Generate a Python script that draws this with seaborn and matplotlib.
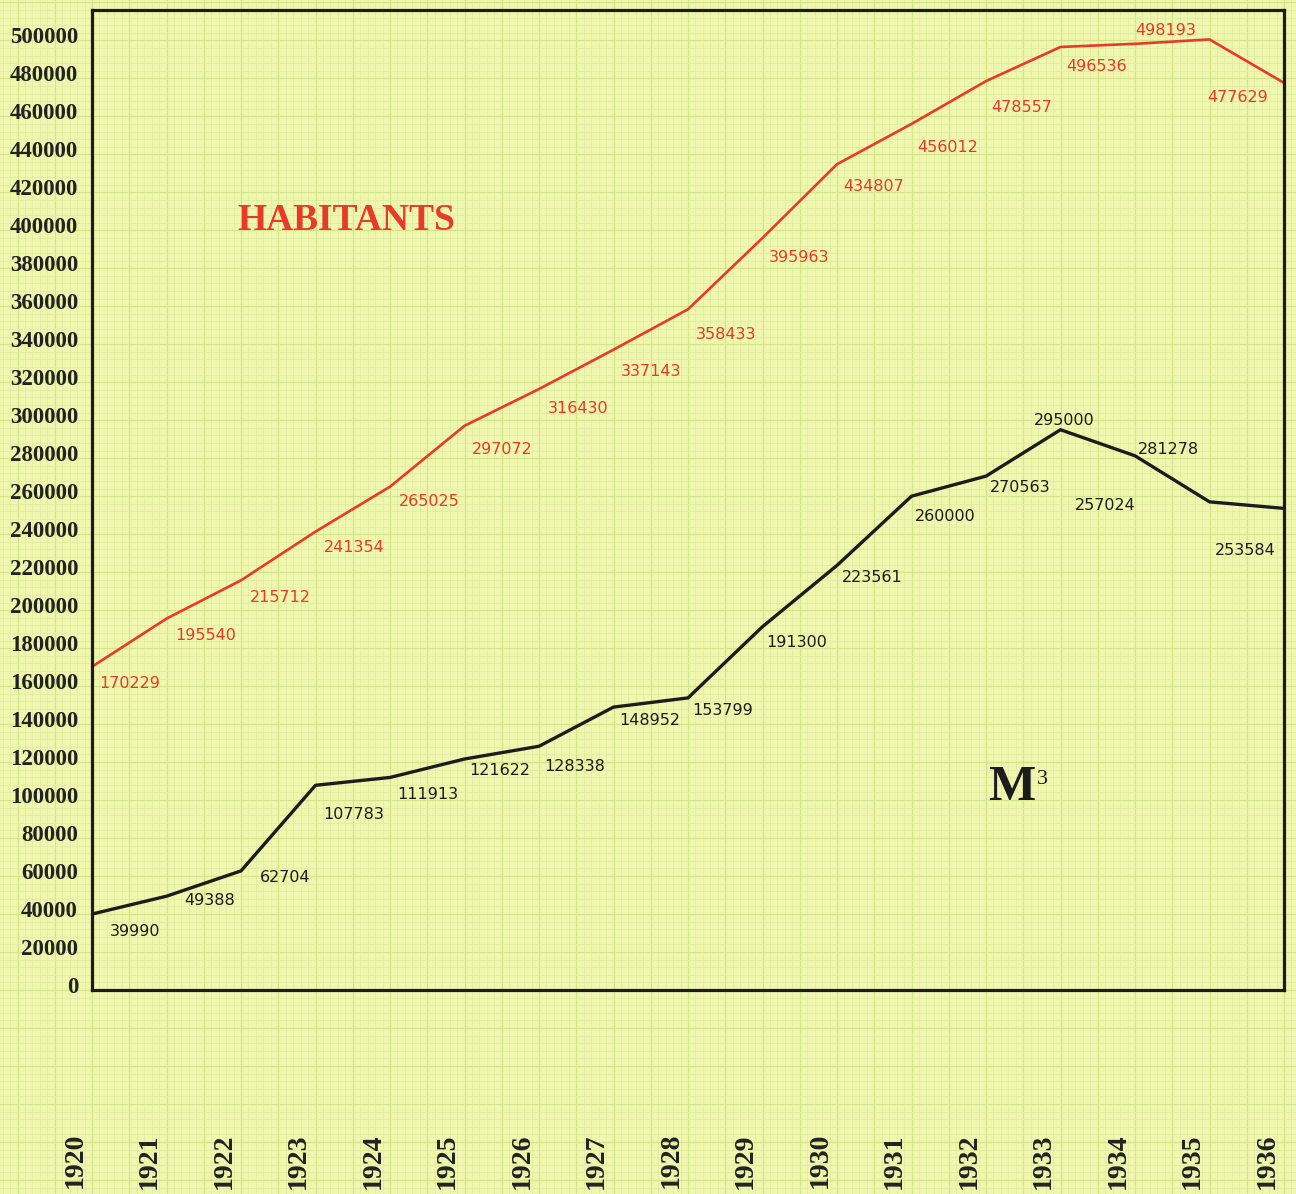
import matplotlib
matplotlib.use("Agg")
import matplotlib.pyplot as plt
import seaborn as sns
import pandas as pd
from matplotlib.ticker import MultipleLocator
from matplotlib.transforms import ScaledTranslation

# ---------------- data ----------------
years = list(range(1920, 1937))
habitants = [170229, 195540, 215712, 241354, 265025, 297072, 316430, 337143,
             358433, 395963, 434807, 456012, 478557, 496536, 498193, 500500, 477629]
habitants_labels = ["170229", "195540", "215712", "241354", "265025", "297072",
                    "316430", "337143", "358433", "395963", "434807", "456012",
                    "478557", "496536", "498193", "", "477629"]
m3 = [39990, 49388, 62704, 107783, 111913, 121622, 128338, 148952, 153799,
      191300, 223561, 260000, 270563, 295000, 281278, 257024, 253584]
m3_labels = ["39990", "49388", "62704", "107783", "111913", "121622", "128338",
             "148952", "153799", "191300", "223561", "260000", "270563",
             "295000", "281278", "257024", "253584"]
y_ticks = list(range(0, 500001, 20000))
year_labels = [str(y) for y in years]

# label offsets (pixels: right, down) relative to each point
hab_off = [(38, 17), (39, 17), (39, 17), (39, 16), (39, 15), (38, 24), (39, 19),
           (38, 22), (38, 25), (37, 20), (37, 22), (36, 24), (36, 26), (36, 20),
           (31, -13), (0, 0), (-46, 15)]
m3_off = [(43, 17), (43, 4), (44, 7), (38, 29), (38, 17), (35, 11), (36, 20),
          (36, 13), (35, 13), (34, 16), (35, 12), (34, 20), (34, 11), (4, -9),
          (33, -6), (-104, 4), (-39, 42)]

RED = "#e8392b"
BLACK = "#1c1c1c"
PAPER = "#eff7ae"

sns.set_theme(style="white")
plt.rcParams["font.family"] = ["DejaVu Sans"]

DPI = 100
fig = plt.figure(figsize=(12.96, 11.94), dpi=DPI)
fig.patch.set_facecolor(PAPER)

# axes placement (pixels)
PX_L, PX_R, PX_T, PX_B = 92, 1284, 10, 990
FW, FH = 1296, 1194
XMIN, XMAX = 1920, 1936
YMIN, YMAX = 0, 516000

# ---------------- graph paper background ----------------
bg = fig.add_axes([0, 0, 1, 1])
bg.set_zorder(0)
xu = (XMAX - XMIN) / (PX_R - PX_L)
yu = (YMAX - YMIN) / (PX_B - PX_T)
bg.set_xlim(XMIN - PX_L * xu, XMAX + (FW - PX_R) * xu)
bg.set_ylim(YMIN - (FH - PX_B) * yu, YMAX + PX_T * yu)
bg.set_facecolor(PAPER)
bg.xaxis.set_minor_locator(MultipleLocator(0.1))
bg.xaxis.set_major_locator(MultipleLocator(0.5))
bg.yaxis.set_minor_locator(MultipleLocator(4000))
bg.yaxis.set_major_locator(MultipleLocator(20000))
bg.grid(which="minor", color="#dfeca0", lw=0.55)
bg.grid(which="major", color="#d3e48a", lw=0.9)
bg.tick_params(which="both", length=0, labelbottom=False, labelleft=False)
for s in bg.spines.values():
    s.set_visible(False)

# ---------------- main axes ----------------
ax = fig.add_axes([PX_L / FW, (FH - PX_B) / FH, (PX_R - PX_L) / FW, (PX_B - PX_T) / FH])
ax.set_zorder(1)
ax.set_facecolor("none")

df = pd.DataFrame({"year": years, "habitants": habitants, "m3": m3})
sns.lineplot(data=df, x="year", y="habitants", color=RED, lw=1.9, ax=ax)
sns.lineplot(data=df, x="year", y="m3", color=BLACK, lw=2.4, ax=ax)

ax.set_xlim(XMIN, XMAX)
ax.set_ylim(YMIN, YMAX)
ax.set_xlabel("")
ax.set_ylabel("")
ax.grid(False)

ax.set_yticks(y_ticks)
ax.set_yticklabels([str(v) for v in y_ticks], fontfamily="Liberation Serif",
                   fontweight="bold", fontsize=16.5, color="#222222")
ax.tick_params(axis="y", length=0, pad=10)
for lab in ax.get_yticklabels():
    lab.set_transform(lab.get_transform() + ScaledTranslation(0, 5 / DPI, fig.dpi_scale_trans))

ax.set_xticks(years)
ax.set_xticklabels(year_labels, rotation=90, fontfamily="Liberation Serif",
                   fontweight="bold", fontsize=20, color="#222222")
ax.tick_params(axis="x", length=0, pad=103)
for lab in ax.get_xticklabels():
    lab.set_transform(lab.get_transform() + ScaledTranslation(-17 / DPI, 0, fig.dpi_scale_trans))

for s in ax.spines.values():
    s.set_visible(True)
    s.set_color(BLACK)
    s.set_linewidth(2.3)

# value labels
for x, v, t, (dx, dy) in zip(years, habitants, habitants_labels, hab_off):
    if t:
        ax.annotate(t, xy=(x, v), xytext=(dx, -dy), textcoords="offset pixels",
                    ha="center", va="center", color=RED, fontsize=11.5,
                    fontfamily="DejaVu Sans")
for x, v, t, (dx, dy) in zip(years, m3, m3_labels, m3_off):
    ax.annotate(t, xy=(x, v), xytext=(dx, -dy), textcoords="offset pixels",
                ha="center", va="center", color=BLACK, fontsize=11.5,
                fontfamily="DejaVu Sans")

# series titles
ax.text(0.213, 0.785, "HABITANTS", transform=ax.transAxes, ha="center", va="center",
        color=RED, fontsize=27, fontweight="bold", fontfamily="Liberation Serif")
ax.text(0.772, 0.206, "M", transform=ax.transAxes, ha="center", va="center",
        color=BLACK, fontsize=36, fontweight="bold", fontfamily="Liberation Serif")
ax.text(0.797, 0.215, "3", transform=ax.transAxes, ha="center", va="center",
        color=BLACK, fontsize=16, fontfamily="Liberation Serif")

fig.savefig("out.png", dpi=DPI, facecolor=PAPER)
